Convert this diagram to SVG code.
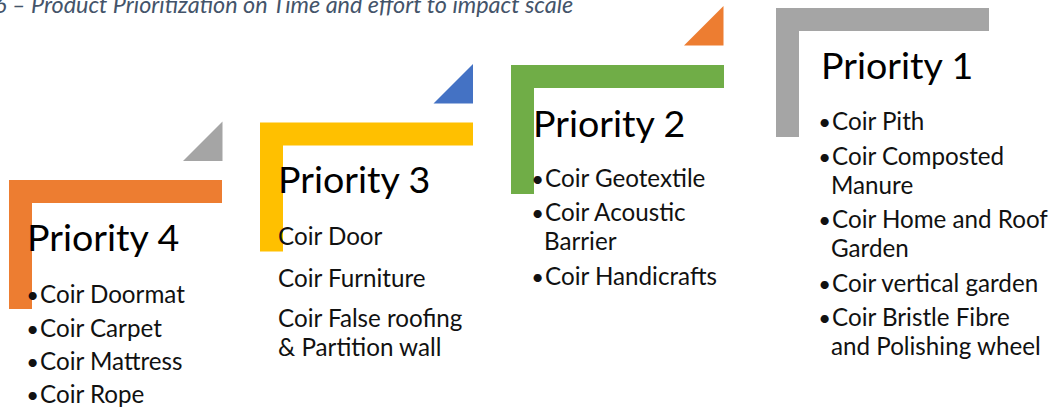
<svg xmlns="http://www.w3.org/2000/svg" width="1053" height="410" viewBox="0 0 1053 410">
  <style>
    .caption { font-family: Lato, "Open Sans", sans-serif; font-style: italic; font-size: 23.4px; fill: #44546A; }
    .title { font-family: Lato, "Open Sans", sans-serif; font-weight: 400; font-size: 37.6px; fill: #000; }
    .item { font-family: Lato, "Open Sans", sans-serif; font-weight: 400; font-size: 24.2px; fill: #111; }
    .dot { font-family: Lato, "Open Sans", sans-serif; font-size: 22px; fill: #111; text-anchor: end; }
  </style>
  <defs>
    <!-- L-shaped step frame: top bar 213x23, left bar 23x129 -->
    <path id="frame" d="M0 0 H213 V23 H23 V129 H0 Z"/>
    <!-- right-angled accent triangle, right angle at bottom-right -->
    <path id="accent" d="M0 39.5 H39.5 V0 Z"/>
  </defs>
  <rect width="1053" height="410" fill="#fff"/>

  <text class="caption" x="-6" y="13">6 – Product Prioritization on Time and effort to impact scale</text>

  <!-- accent triangles leading up the staircase -->
  <g id="connectors">
    <use href="#accent" x="183" y="121.5" fill="#A5A5A5"/>
    <use href="#accent" x="433.5" y="64" fill="#4472C4"/>
    <use href="#accent" x="684" y="6" fill="#ED7D31"/>
  </g>

  <g id="priority4">
    <use href="#frame" x="9" y="180" fill="#ED7D31"/>
    <text class="title" x="27" y="251">Priority 4</text>
    <text class="dot" x="39" y="303">•</text><text class="item" x="40" y="303">Coir Doormat</text>
    <text class="dot" x="39" y="336.5">•</text><text class="item" x="40" y="336.5">Coir Carpet</text>
    <text class="dot" x="39" y="370">•</text><text class="item" x="40" y="370">Coir Mattress</text>
    <text class="dot" x="39" y="403">•</text><text class="item" x="40" y="403">Coir Rope</text>
  </g>

  <g id="priority3">
    <use href="#frame" x="260" y="122.5" fill="#FFC000"/>
    <text class="title" x="278" y="193">Priority 3</text>
    <text class="item" x="278" y="245">Coir Door</text>
    <text class="item" x="278" y="287">Coir Furniture</text>
    <text class="item" x="278" y="327">Coir False roofing</text>
    <text class="item" x="278" y="356">&amp; Partition wall</text>
  </g>

  <g id="priority2">
    <use href="#frame" x="511" y="65" fill="#70AD47"/>
    <text class="title" x="533" y="137">Priority 2</text>
    <text class="dot" x="544" y="187">•</text><text class="item" x="545" y="187">Coir Geotextile</text>
    <text class="dot" x="544" y="221">•</text><text class="item" x="545" y="221">Coir Acoustic</text>
    <text class="item" x="544" y="250">Barrier</text>
    <text class="dot" x="544" y="285">•</text><text class="item" x="545" y="285">Coir Handicrafts</text>
  </g>

  <g id="priority1">
    <use href="#frame" x="776" y="8" fill="#A5A5A5"/>
    <text class="title" x="821" y="79">Priority 1</text>
    <text class="dot" x="831" y="130">•</text><text class="item" x="832" y="130">Coir Pith</text>
    <text class="dot" x="831" y="164.5">•</text><text class="item" x="832" y="164.5">Coir Composted</text>
    <text class="item" x="831" y="193.5">Manure</text>
    <text class="dot" x="831" y="228">•</text><text class="item" x="832" y="228">Coir Home and Roof</text>
    <text class="item" x="831" y="257">Garden</text>
    <text class="dot" x="831" y="292">•</text><text class="item" x="832" y="292">Coir vertical garden</text>
    <text class="dot" x="831" y="326">•</text><text class="item" x="832" y="326">Coir Bristle Fibre</text>
    <text class="item" x="831" y="355">and Polishing wheel</text>
  </g>
</svg>
